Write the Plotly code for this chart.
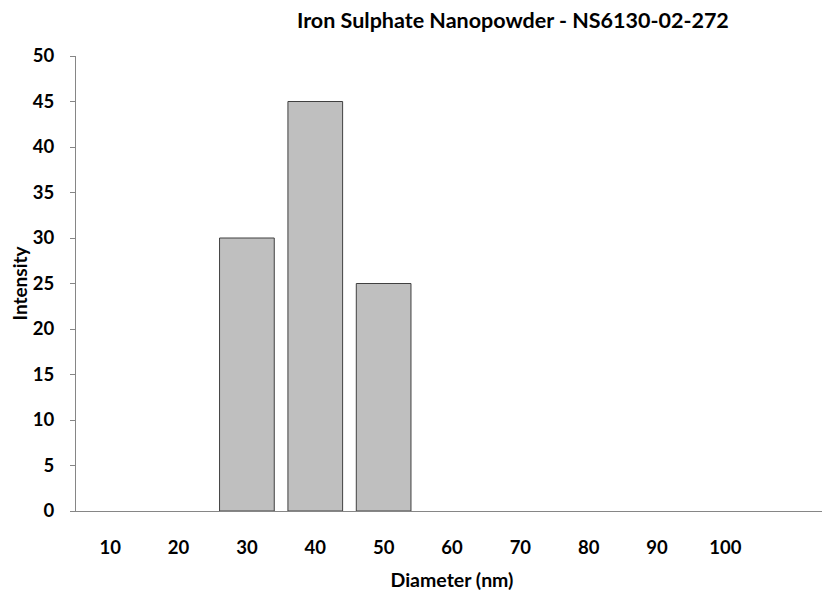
import plotly.graph_objects as go

diameters = [10, 20, 30, 40, 50, 60, 70, 80, 90, 100]
intensity = [0, 0, 30, 45, 25, 0, 0, 0, 0, 0]
y_ticks = [0, 5, 10, 15, 20, 25, 30, 35, 40, 45, 50]

FONT = "Lato"

# no outline for empty (zero-height) bars
line_widths = [1 if v > 0 else 0 for v in intensity]

fig = go.Figure(go.Bar(
    x=diameters, y=intensity,
    marker=dict(color="#BFBFBF", line=dict(color="#404040", width=line_widths)),
    width=8,
))

fig.update_layout(
    width=822, height=589,
    margin=dict(l=68, r=2, t=48, b=86),
    paper_bgcolor="white", plot_bgcolor="white",
    showlegend=False,
    font=dict(family=FONT, size=18.5, color="black"),
    title=dict(text="<b>Iron Sulphate Nanopowder - NS6130-02-272</b>",
               x=0.581, xref="paper", xanchor="center",
               y=0.9796, yref="container", yanchor="middle",
               font=dict(family=FONT, size=21.5, color="black")),
)
fig.update_xaxes(
    range=[5, 115], tickvals=diameters,
    ticktext=[f"<b>{d}</b>" for d in diameters],
    showgrid=False, zeroline=False,
    showline=True, linecolor="#868686", linewidth=1,
    ticks="", ticklabelstandoff=20,
    title=dict(text="<b>Diameter (nm)</b>", standoff=16, font=dict(size=19.5)),
)
fig.update_yaxes(
    range=[0, 50], tickvals=y_ticks,
    ticktext=[f"<b>{v}</b>" for v in y_ticks],
    showgrid=False, zeroline=False,
    showline=True, linecolor="#868686", linewidth=1,
    ticks="outside", ticklen=5, tickcolor="#868686",
    ticklabelstandoff=12,
    title=dict(text="<b>Intensity</b>", standoff=8, font=dict(size=19)),
)

fig.write_html("out.html")
